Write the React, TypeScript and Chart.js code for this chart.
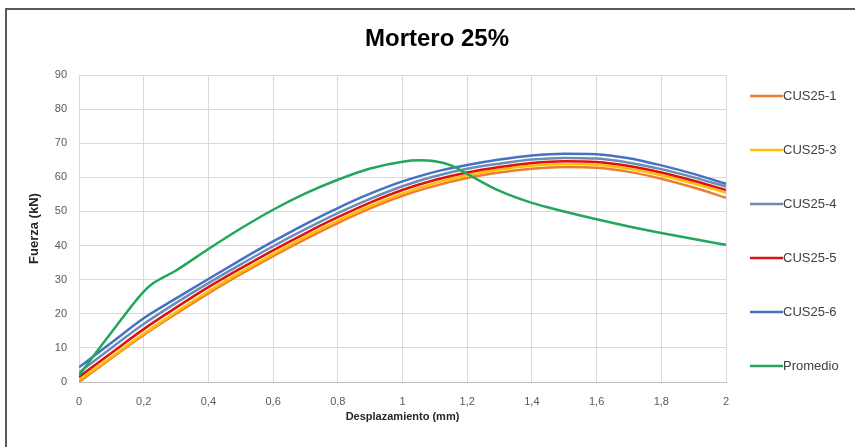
import React, { useEffect, useRef } from "react";
import { Chart, registerables } from "chart.js";

Chart.register(...registerables);

const chartTitle = "Mortero 25%";
const xAxisTitle = "Desplazamiento (mm)";
const yAxisTitle = "Fuerza (kN)";

const displacement = [0, 0.1, 0.2, 0.3, 0.4, 0.5, 0.6, 0.7, 0.8, 0.9, 1.0, 1.1, 1.2, 1.3, 1.4, 1.5, 1.6, 1.7, 1.8, 1.9, 2.0];

const cus25_1 = [0, 7, 13.8, 20, 26, 31.6, 36.9, 41.9, 46.6, 50.9, 54.6, 57.5, 59.8, 61.4, 62.5, 63, 62.8, 61.6, 59.6, 57, 54];
const cus25_3 = [0.5, 7.3, 14.2, 20.5, 26.6, 32.2, 37.5, 42.6, 47.3, 51.6, 55.3, 58.3, 60.6, 62.3, 63.4, 63.9, 63.7, 62.5, 60.6, 58.2, 55.5];
const cus25_4 = [2.8, 10, 17, 23.2, 29, 34.5, 39.8, 44.8, 49.5, 53.7, 57.4, 60.3, 62.5, 64, 65.2, 65.7, 65.5, 64.3, 62.4, 60, 57.3];
const cus25_5 = [1.5, 8.5, 15.5, 21.8, 27.8, 33.3, 38.6, 43.6, 48.3, 52.6, 56.3, 59.2, 61.4, 63, 64.2, 64.7, 64.5, 63.3, 61.4, 59, 56.3];
const cus25_6 = [4.3, 11.5, 18.7, 24.5, 30.2, 35.8, 41.2, 46.3, 51, 55.2, 58.8, 61.6, 63.6, 65.2, 66.4, 66.9, 66.8, 65.6, 63.5, 61, 58.1];

const promedioX = [0, 0.1, 0.2, 0.23, 0.3, 0.4, 0.5, 0.6, 0.7, 0.8, 0.9, 1.0, 1.05, 1.1, 1.15, 1.2, 1.3, 1.4, 1.5, 1.6, 1.7, 1.8, 1.9, 2.0];
const promedioY = [2, 14.5, 26.5, 29, 32.7, 39, 45, 50.5, 55.3, 59.3, 62.6, 64.6, 65, 64.7, 63.5, 61, 56, 52.5, 50, 47.7, 45.6, 43.7, 41.9, 40.2];

const seriesNames = ["CUS25-1", "CUS25-3", "CUS25-4", "CUS25-5", "CUS25-6", "Promedio"];
const seriesColors = ["#ED7D31", "#FFC000", "#6B8DB3", "#E01010", "#4472C4", "#22A75A"];

const xTicks = { min: 0, max: 2, step: 0.2 };
const yTicks = { min: 0, max: 90, step: 10 };

const FONT = "'Liberation Sans', 'DejaVu Sans', sans-serif";

export default function App() {
  const ref = useRef<HTMLCanvasElement>(null);

  useEffect(() => {
    if (!ref.current) return;
    const cusSeries = [cus25_1, cus25_3, cus25_4, cus25_5, cus25_6];
    const datasets: any[] = cusSeries.map((arr, i) => ({
      label: seriesNames[i],
      data: displacement.map((x, j) => ({ x, y: arr[j] })),
      borderColor: seriesColors[i],
      backgroundColor: seriesColors[i],
      borderWidth: 2.5,
      pointRadius: 0,
      cubicInterpolationMode: "monotone",
      order: 6 - i,
    }));
    datasets.push({
      label: seriesNames[5],
      data: promedioX.map((x, j) => ({ x, y: promedioY[j] })),
      borderColor: seriesColors[5],
      backgroundColor: seriesColors[5],
      borderWidth: 2.5,
      pointRadius: 0,
      cubicInterpolationMode: "monotone",
      order: 1,
    });

    const legendPlugin = {
      id: "customLegend",
      afterDraw(chart: any) {
        const ctx = chart.ctx;
        ctx.save();
        const startY = 96;
        const gap = 54;
        seriesNames.forEach((name, i) => {
          const y = startY + i * gap;
          ctx.strokeStyle = seriesColors[i];
          ctx.lineWidth = 2.5;
          ctx.beginPath();
          ctx.moveTo(750, y);
          ctx.lineTo(783, y);
          ctx.stroke();
          ctx.fillStyle = "#404040";
          ctx.font = `13px ${FONT}`;
          ctx.textBaseline = "middle";
          ctx.textAlign = "left";
          ctx.fillText(name, 783, y);
        });
        ctx.restore();
      },
    };

    const chart = new Chart(ref.current, {
      type: "line",
      data: { datasets },
      plugins: [legendPlugin],
      options: {
        animation: false,
        responsive: false,
        layout: { padding: { left: 20, right: 1, top: 10, bottom: 16 } },
        plugins: {
          legend: { display: false },
          tooltip: { enabled: false },
          title: {
            display: true,
            text: chartTitle,
            color: "#000000",
            font: { family: FONT, size: 24, weight: "bold" },
            padding: { top: 14.6, bottom: 21.6 },
          },
        },
        scales: {
          x: {
            type: "linear",
            min: xTicks.min,
            max: xTicks.max,
            afterFit: (s: any) => { s.height = 49; },
            ticks: {
              stepSize: xTicks.step,
              color: "#595959",
              font: { family: FONT, size: 11 },
              padding: 13,
              maxRotation: 0,
              callback: (v: any) => Number(Number(v).toFixed(1)).toString().replace(".", ","),
            },
            grid: { color: "#d9d9d9", drawTicks: false },
            border: { color: "#bfbfbf" },
            title: {
              display: true,
              text: xAxisTitle,
              color: "#262626",
              font: { family: FONT, size: 11, weight: "bold" },
              padding: { top: 0, bottom: 7 },
            },
          },
          y: {
            min: yTicks.min,
            max: yTicks.max,
            afterFit: (s: any) => { s.width = 59; },
            ticks: {
              stepSize: yTicks.step,
              color: "#595959",
              font: { family: FONT, size: 11 },
              padding: 12,
            },
            grid: { color: "#d9d9d9", drawTicks: false },
            border: { display: false },
            title: {
              display: true,
              text: yAxisTitle,
              color: "#262626",
              font: { family: FONT, size: 13, weight: "bold" },
              padding: { top: 7, bottom: 0 },
            },
          },
          yRightSpace: {
            type: "linear",
            position: "right",
            min: yTicks.min,
            max: yTicks.max,
            afterFit: (s: any) => { s.width = 128; },
            ticks: { display: false },
            grid: { display: false },
            border: { display: false },
          },
        },
      },
    });
    return () => chart.destroy();
  }, []);

  return (
    <>
      <canvas
        ref={ref}
        width={855}
        height={447}
        style={{ position: "fixed", left: 0, top: 0, width: 855, height: 447, background: "#ffffff" }}
      />
      <div
        style={{
          position: "fixed",
          left: 5,
          top: 8,
          width: 900,
          height: 500,
          borderLeft: "2px solid #5a5a5a",
          borderTop: "2px solid #5a5a5a",
          pointerEvents: "none",
        }}
      />
    </>
  );
}
